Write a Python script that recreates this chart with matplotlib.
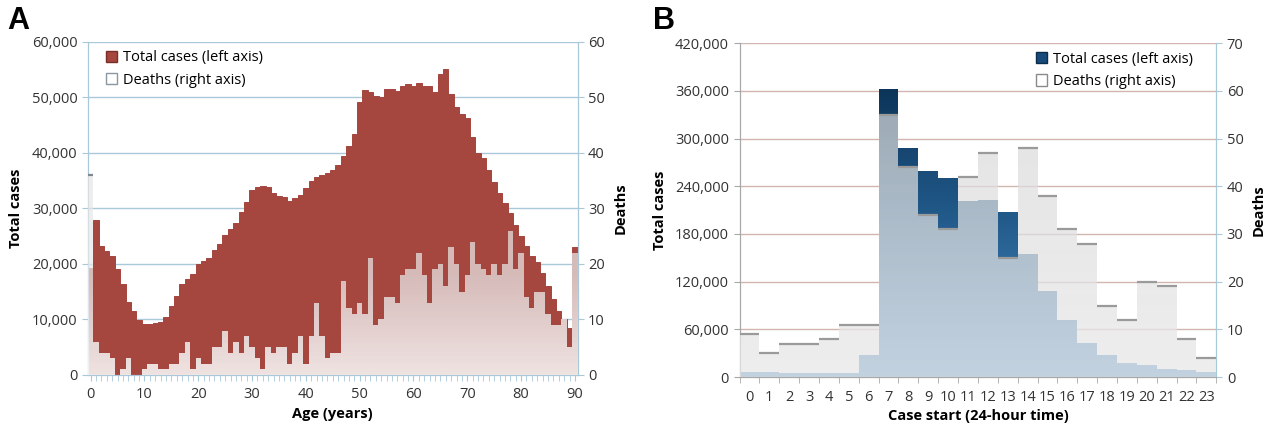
import numpy as np
import matplotlib.pyplot as plt
from matplotlib.path import Path
from matplotlib.patches import PathPatch, Patch
from matplotlib.ticker import FuncFormatter, MultipleLocator

plt.rcParams['font.family'] = ['Open Sans', 'DejaVu Sans']

# Panel A: by age
ages = np.arange(91)
age_cases = [19300, 27900, 23200, 22300, 21400, 19000, 16300, 13200, 11500, 9900,
             9200, 9200, 9300, 9500, 10500, 12400, 14200, 16300, 17200, 18100,
             19900, 20500, 21100, 22600, 23600, 25300, 26300, 27300, 29400, 31200,
             33300, 33900, 34000, 33900, 32700, 32300, 32000, 31300, 31800, 32400,
             33600, 34900, 35700, 36000, 36400, 37000, 37900, 39500, 41300, 43500,
             49100, 51300, 50900, 50300, 50000, 51500, 51500, 51200, 52100, 52400,
             52100, 52600, 52100, 52100, 51000, 54200, 55200, 50600, 48200, 47000,
             46300, 42900, 40000, 39000, 36900, 34700, 32700, 30900, 29100, 27000,
             25000, 23300, 21400, 20400, 18400, 16000, 13600, 11500, 10000, 8500,
             23000]
age_deaths = [36, 6, 4, 4, 3, 0, 1, 3, 0, 0,
              1, 2, 2, 1, 1, 2, 2, 4, 6, 1,
              3, 2, 2, 5, 5, 8, 4, 6, 4, 7,
              5, 3, 1, 5, 4, 5, 5, 2, 4, 7,
              2, 7, 13, 7, 3, 4, 4, 17, 12, 11,
              13, 11, 21, 9, 10, 14, 14, 13, 18, 19,
              19, 22, 18, 13, 19, 20, 16, 23, 20, 15,
              18, 24, 20, 19, 18, 20, 18, 20, 26, 19,
              22, 14, 12, 15, 15, 11, 9, 9, 10, 5,
              22]

# Panel B: by hour of case start
hours = np.arange(24)
hour_cases = [7000, 6000, 5000, 5000, 5000, 5500, 28000, 362000, 288000, 259000,
              250000, 221000, 223000, 208000, 155000, 108600, 71400, 43000, 27500, 18000,
              15000, 10500, 8500, 6300]
hour_deaths = [9, 5, 7, 7, 8, 11, 11, 55, 44, 34,
               31, 42, 47, 25, 48, 38, 31, 28, 15, 12,
               20, 19, 8, 4]


def gradient_fill(ax, bars, stops, zorder):
    """Fill the union of bars with a vertical gradient in axes coords."""
    verts, codes = [], []
    for b in bars:
        p = b.get_path().transformed(b.get_patch_transform())
        verts.extend(p.vertices)
        codes.extend(p.codes if p.codes is not None else
                     [Path.MOVETO] + [Path.LINETO] * (len(p.vertices) - 1))
    clip = PathPatch(Path(verts, codes), transform=ax.transData)
    ys = np.linspace(1, 0, 300)
    pos = [s[0] for s in stops]
    img = np.zeros((300, 1, 4))
    for ch in range(4):
        img[:, 0, ch] = np.interp(ys, pos, [s[1][ch] for s in stops])
    im = ax.imshow(img, extent=[0, 1, 0, 1], transform=ax.transAxes,
                   aspect='auto', interpolation='bilinear', zorder=zorder)
    im.set_clip_path(clip)


def grey(v, a):
    return (v / 255, v / 255, v / 255, a)


def rgb(h, a=1.0):
    h = h.lstrip('#')
    return tuple(int(h[i:i + 2], 16) / 255 for i in (0, 2, 4)) + (a,)


fig = plt.figure(figsize=(12.75, 4.28), dpi=100)
tick_col = '#333333'

# ---------------- Panel A ----------------
axA = fig.add_axes([0.069, 0.124, 0.384, 0.778])
axA2 = axA.twinx()
red = '#a5463f'
axA.bar(ages, age_cases, width=1.0, color=red, edgecolor=red, linewidth=0.7, zorder=2)
barsA = axA2.bar(ages, age_deaths, width=1.02, color='none', linewidth=0)
gradient_fill(axA2, barsA, [(0.0, grey(250, 0.88)), (0.3, grey(234, 0.72)),
                            (1.0, grey(226, 0.68))], zorder=3)
over = np.array(age_deaths) * 1000 > np.array(age_cases)
axA2.hlines(np.array(age_deaths)[over], ages[over] - 0.5, ages[over] + 0.5,
            color='#7d8890', lw=1.6, zorder=4)

axA.set_xlim(-0.5, 90.5)
axA.set_ylim(0, 60000)
axA2.set_ylim(0, 60)
axA.set_yticks(np.arange(0, 60001, 10000))
axA2.set_yticks(np.arange(0, 61, 10))
axA.yaxis.set_major_formatter(FuncFormatter(lambda v, p: f'{int(v):,}'))
axA.set_xticks(np.arange(0, 91, 10))
axA.xaxis.set_minor_locator(MultipleLocator(1))
axA.set_axisbelow(True)
axA.grid(axis='y', color='#a9c8da', lw=1.0)
axA.grid(axis='x', visible=False)
for a in (axA, axA2):
    for s in a.spines.values():
        s.set_color('#a9c8da')
    a.spines['top'].set_visible(False)
axA.tick_params(axis='x', which='major', length=4, color='#a9c8da', labelsize=10.5,
                labelcolor=tick_col, pad=5)
axA.tick_params(axis='x', which='minor', length=4, color='#a9c8da')
axA.tick_params(axis='y', length=4, color='#a9c8da', labelsize=10.5, labelcolor=tick_col)
axA2.tick_params(axis='y', length=4, color='#a9c8da', labelsize=10.5, labelcolor=tick_col)
axA.set_xlabel('Age (years)', fontweight='bold', fontsize=10.5, labelpad=3)
axA.set_ylabel('Total cases', fontweight='bold', fontsize=10.5, labelpad=6)
axA2.set_ylabel('Deaths', fontweight='bold', fontsize=10.5, labelpad=6)
axA2.legend(handles=[Patch(facecolor=red, edgecolor='#7a2e28', label='Total cases (left axis)'),
                     Patch(facecolor='white', edgecolor='#8a96a0', label='Deaths (right axis)')],
            loc='upper left', bbox_to_anchor=(0.015, 1.005), frameon=False,
            fontsize=10.5, handlelength=0.8, handleheight=0.8, handletextpad=0.4,
            labelspacing=0.5, borderaxespad=0.3)

# ---------------- Panel B ----------------
axB = fig.add_axes([0.580, 0.119, 0.374, 0.780])
axB2 = axB.twinx()
barsB = axB.bar(hours, hour_cases, width=1.0, color='none', linewidth=0)
gradient_fill(axB, barsB, [(0.0, rgb('#4f8cc4')), (0.5, rgb('#205888')),
                           (1.0, rgb('#062848'))], zorder=2)
barsB2 = axB2.bar(hours, hour_deaths, width=1.0, color='none', linewidth=0)
gradient_fill(axB2, barsB2, [(0.0, grey(233, 0.76)), (1.0, grey(214, 0.70))], zorder=3)
axB2.hlines(hour_deaths, hours - 0.5, hours + 0.5, color='#9a9a9a', lw=1.6, zorder=4)

axB.set_xlim(-0.5, 23.5)
axB.set_ylim(0, 420000)
axB2.set_ylim(0, 70)
axB.set_yticks(np.arange(0, 420001, 60000))
axB2.set_yticks(np.arange(0, 71, 10))
axB.yaxis.set_major_formatter(FuncFormatter(lambda v, p: f'{int(v):,}'))
axB.set_xticks(hours)
axB.set_xticks(np.arange(-0.5, 24, 1), minor=True)
axB.set_axisbelow(True)
axB.grid(axis='y', color='#d2b4b0', lw=1.0)
axB.grid(axis='x', visible=False)
for a in (axB, axB2):
    for s in a.spines.values():
        s.set_color('#a8a8a8')
    a.spines['right'].set_color('#a9c8da')
    a.spines['top'].set_visible(False)
axB.tick_params(axis='x', which='major', length=0, labelsize=10.5, labelcolor=tick_col, pad=9)
axB.tick_params(axis='x', which='minor', length=4, color='#a8a8a8')
axB.tick_params(axis='y', length=4, color='#a8a8a8', labelsize=10.5, labelcolor=tick_col)
axB2.tick_params(axis='y', length=4, color='#a9c8da', labelsize=10.5, labelcolor=tick_col)
axB.set_xlabel('Case start (24-hour time)', fontweight='bold', fontsize=10.5, labelpad=3)
axB.set_ylabel('Total cases', fontweight='bold', fontsize=10.5, labelpad=6)
axB2.set_ylabel('Deaths', fontweight='bold', fontsize=10.5, labelpad=6)
axB2.legend(handles=[Patch(facecolor='#174a7a', edgecolor='#0c2c4c', label='Total cases (left axis)'),
                     Patch(facecolor='white', edgecolor='#8a8a8a', label='Deaths (right axis)')],
            loc='upper left', bbox_to_anchor=(0.6, 1.005), frameon=False,
            fontsize=10.5, handlelength=0.8, handleheight=0.8, handletextpad=0.4,
            labelspacing=0.5, borderaxespad=0.3)

fig.text(0.006, 0.985, 'A', fontsize=22, fontweight='bold', va='top',
         family=['Liberation Sans', 'DejaVu Sans'])
fig.text(0.512, 0.985, 'B', fontsize=22, fontweight='bold', va='top',
         family=['Liberation Sans', 'DejaVu Sans'])

fig.savefig('out.png', dpi=100)
